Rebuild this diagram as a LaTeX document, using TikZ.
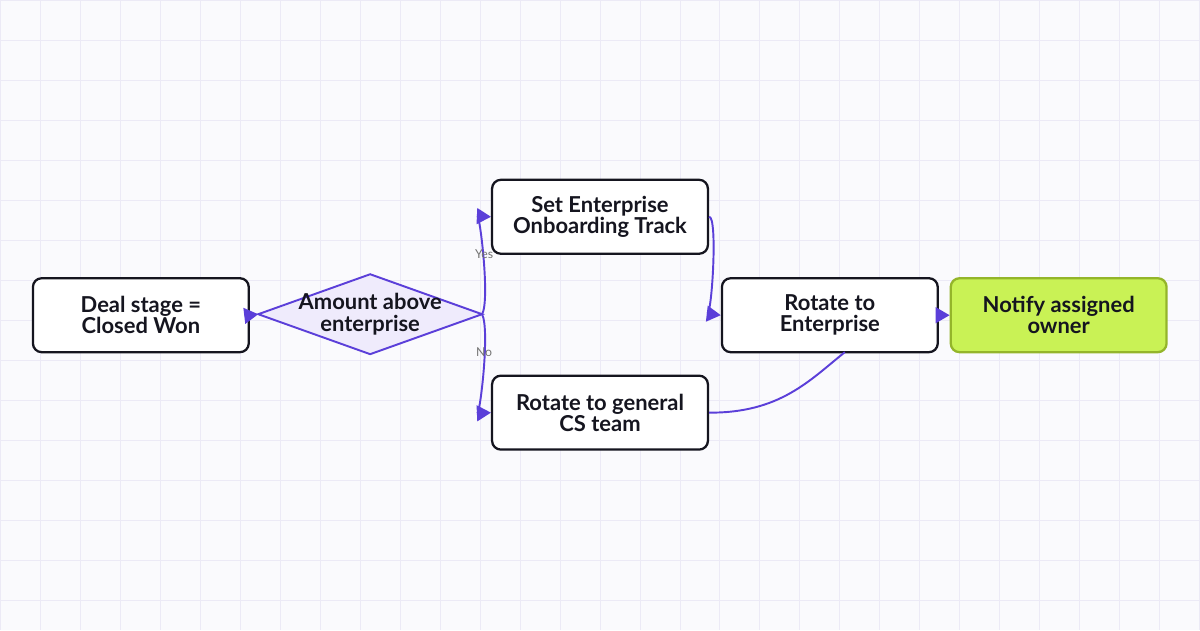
\documentclass[tikz,border=0pt]{standalone}
\usepackage{fontspec}
\setmainfont{Lato}
\usetikzlibrary{arrows.meta}
\definecolor{edge}{HTML}{5B3FD9}
\definecolor{gridc}{HTML}{ECEAF6}
\definecolor{bg}{HTML}{FAFAFD}
\definecolor{dfill}{HTML}{EFEBFC}
\definecolor{gfill}{HTML}{C9F255}
\definecolor{gdraw}{HTML}{94B52A}
\definecolor{txt}{HTML}{15151F}
\begin{document}
\begin{tikzpicture}[x=0.02cm,y=-0.02cm,
  box/.style={draw=txt,line width=1.3pt,rounded corners=5pt,fill=white,align=center,
    font=\fontsize{12.5}{12}\selectfont\bfseries,text=txt,minimum width=216*0.02cm,minimum height=74*0.02cm,inner sep=0pt},
  conn/.style={draw=edge,line width=1.1pt},
  arr/.style={conn,-{Triangle[length=8pt,width=9pt]}},
  lab/.style={font=\fontsize{7}{7}\selectfont,text=black!55}]
\fill[bg] (0,0) rectangle (1200,630);
\foreach \i in {0,40,...,1200} \draw[gridc,line width=0.5pt] (\i,0)--(\i,630);
\foreach \j in {0,40,...,630} \draw[gridc,line width=0.5pt] (0,\j)--(1200,\j);
\useasboundingbox (0,0) rectangle (1200,630);
\node[box] (deal) at (140.5,315) {Deal stage =\\Closed Won};
\draw[edge,fill=dfill,line width=1.1pt] (258,314)--(370,274)--(482,314)--(370,354)--cycle;
\node[align=center,font=\fontsize{12.5}{12}\selectfont\bfseries,text=txt] (dec) at (370,314) {Amount above\\enterprise};
\coordinate (dl) at (258,314);
\coordinate (dr) at (482,314);
\coordinate (rb) at (845,352);
\node[box] (set) at (600,216.5) {Set Enterprise\\Onboarding Track};
\node[box] (gen) at (600,412.5) {Rotate to general\\CS team};
\node[box] (ent) at (830,315) {Rotate to\\Enterprise};
\node[box,fill=gfill,draw=gdraw] (not) at (1059,315) {Notify assigned\\owner};
\draw[arr] (deal.east) -- (dl);
\draw[arr] (dr) .. controls (490,300) and (480,216) .. (set.west);
\draw[arr] (dr) .. controls (490,330) and (480,413) .. (gen.west);
\draw[arr] (set.east) .. controls (718,216) and (712,314) .. (ent.west);
\draw[conn] (gen.east) .. controls (780,413) and (810,380) .. (rb);
\draw[arr] (ent.east) -- (not.west);
\node[lab] (yes) at (484,254) {Yes};
\node[lab] (no) at (484,352) {No};
\end{tikzpicture}
\end{document}
